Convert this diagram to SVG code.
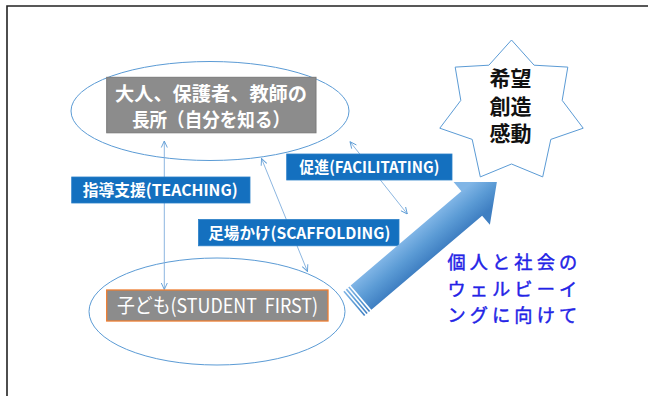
<svg xmlns="http://www.w3.org/2000/svg" width="648" height="396" viewBox="0 0 648 396">
<defs>
<style>
.ell{fill:none;stroke:#5B9BD5;stroke-width:1}
.con{fill:none;stroke:#7FAEDD;stroke-width:0.9}
.gbox{fill:#8C8C8C}
.lbl{fill:#1470BF;stroke:#2A7FC8;stroke-width:0.8}
.wt{fill:#FFFFFF;font-family:"Noto Sans CJK JP","Noto Sans",sans-serif}
.bk{fill:#111111;font-family:"Noto Sans CJK JP",sans-serif;font-size:21px;text-anchor:middle}
.bl{fill:#2323E6;stroke:#2323E6;stroke-width:0.45px;font-family:"Noto Sans CJK JP",sans-serif;font-size:18.2px;letter-spacing:4.1px}
</style>
<marker id="ah" viewBox="0 0 8 8" refX="7.5" refY="4" markerWidth="8" markerHeight="8" markerUnits="userSpaceOnUse" orient="auto-start-reverse">
<path d="M1,1 L7.5,4 L1,7" fill="none" stroke="#5B9BD5" stroke-width="0.9"/>
</marker>
<linearGradient id="ag" gradientUnits="userSpaceOnUse" x1="0" y1="-16" x2="0" y2="16">
<stop offset="0" stop-color="#80B5E6"/>
<stop offset="0.5" stop-color="#5B9BD5"/>
<stop offset="1" stop-color="#3F7FC2"/>
</linearGradient>
</defs>
<rect x="0" y="0" width="648" height="396" fill="#FFFFFF"/>
<path d="M7,400 V6 H652" fill="none" stroke="#222222" stroke-width="1.6"/>

<g id="ellipse-top"><ellipse class="ell" cx="210" cy="111" rx="139" ry="49.5"/></g>
<g id="ellipse-bottom"><ellipse class="ell" cx="217" cy="311.5" rx="128" ry="53.5"/></g>

<g id="connectors">
<line class="con" x1="164.3" y1="141" x2="164.3" y2="289.5" marker-start="url(#ah)" marker-end="url(#ah)"/>
<line class="con" x1="261.5" y1="158.5" x2="307.5" y2="271.5" marker-start="url(#ah)" marker-end="url(#ah)"/>
<line class="con" x1="350" y1="141.7" x2="407.3" y2="214" marker-start="url(#ah)" marker-end="url(#ah)"/>
</g>

<g id="node-adults">
<rect class="gbox" x="106.7" y="77.3" width="209.3" height="55.5" stroke="#7A7A7A" stroke-width="1"/>
<text class="wt" font-size="19" font-weight="bold" text-anchor="middle"><tspan x="211" y="101" textLength="192" lengthAdjust="spacingAndGlyphs">大人、保護者、教師の</tspan><tspan x="211" y="127" textLength="158" lengthAdjust="spacingAndGlyphs">長所（自分を知る）</tspan></text>
</g>

<g id="node-child">
<rect class="gbox" x="106.7" y="290" width="221.3" height="31" stroke="#ED7D31" stroke-width="1.3"/>
<text class="wt" x="117" y="313" font-size="20" xml:space="preserve" textLength="201" lengthAdjust="spacingAndGlyphs">子ども(STUDENT  FIRST)</text>
</g>

<g id="label-teaching">
<rect class="lbl" x="71.7" y="177" width="178.3" height="26"/>
<text class="wt" x="82.7" y="196" font-size="16" font-weight="bold" textLength="155" lengthAdjust="spacingAndGlyphs">指導支援(TEACHING)</text>
</g>

<g id="label-facilitating">
<rect class="lbl" x="286.7" y="154" width="165.3" height="26"/>
<text class="wt" x="299.3" y="173" font-size="16" font-weight="bold" textLength="140" lengthAdjust="spacingAndGlyphs">促進(FACILITATING)</text>
</g>

<g id="label-scaffolding">
<rect class="lbl" x="198.5" y="219.5" width="200.5" height="26.3"/>
<text class="wt" x="208.3" y="239" font-size="16" font-weight="bold" textLength="182" lengthAdjust="spacingAndGlyphs">足場かけ(SCAFFOLDING)</text>
</g>

<g id="big-arrow" transform="translate(353.7,303.9) rotate(-40.4)">
<rect x="0" y="-16" width="1.6" height="32" fill="url(#ag)"/>
<rect x="3.2" y="-16" width="1.6" height="32" fill="url(#ag)"/>
<rect x="6.4" y="-16" width="1.6" height="32" fill="url(#ag)"/>
<path d="M9.6,-16 H155 V-28 L188,0 L155,28 V16 H9.6 Z" fill="url(#ag)"/>
</g>

<g id="star">
<polygon points="511.5,40 534.1,65.2 567.8,67.1 562.2,100.4 583.2,128.2 550.8,139.4 542.7,176.9 511.5,164 480.3,176.9 472.2,139.4 439.8,128.2 460.8,100.4 455.2,67.1 488.9,65.2" fill="#FFFFFF" stroke="#5B9BD5" stroke-width="1"/>
<text class="bk" font-weight="bold"><tspan x="510.5" y="86">希望</tspan><tspan x="510.5" y="113.5">創造</tspan><tspan x="510.5" y="141">感動</tspan></text>
</g>

<g id="wellbeing-text">
<text class="bl"><tspan x="447.5" y="269">個人と社会の</tspan><tspan x="447.5" y="295.5">ウェルビーイ</tspan><tspan x="447.5" y="322">ングに向けて</tspan></text>
</g>
</svg>
